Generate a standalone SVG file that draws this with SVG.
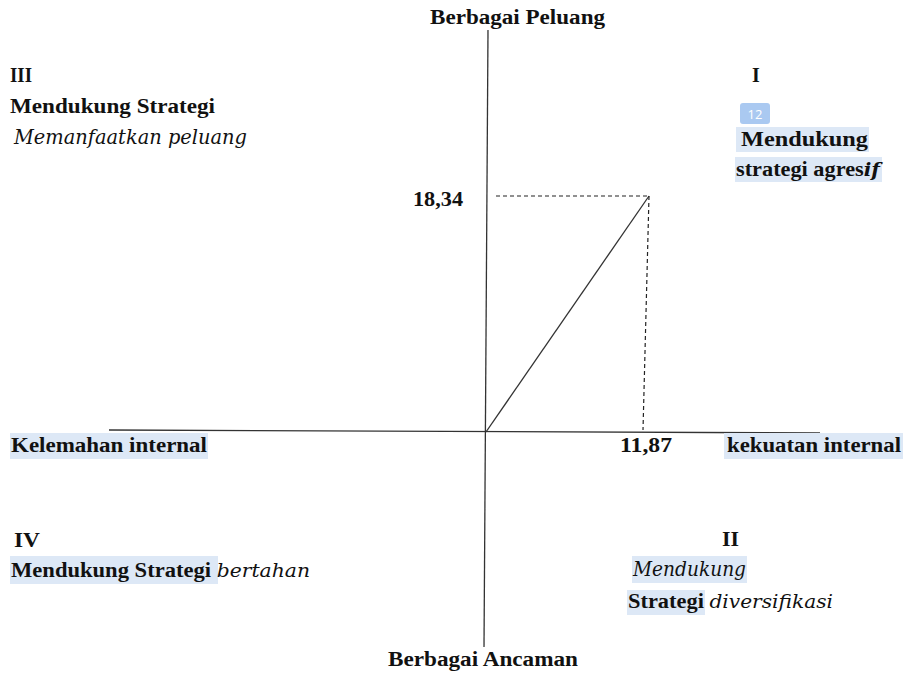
<svg xmlns="http://www.w3.org/2000/svg" width="903" height="677" viewBox="0 0 903 677">
<style>
text{font-family:"Liberation Serif","Times New Roman",serif;font-size:20px;font-weight:bold;fill:#111;}
.it{font-style:italic;font-family:"DejaVu Serif","Liberation Serif",serif;}
.n{font-weight:normal;}
.hl{fill:#dde8f6;}
.ax{stroke:#333;stroke-width:1.3;fill:none;}
.ds{stroke:#222;stroke-width:1.2;stroke-dasharray:4 3;fill:none;}
</style>
<rect width="903" height="677" fill="#fff"/>
<g id="connectors">
<line class="ax" x1="488" y1="30" x2="484" y2="647"/>
<line class="ax" x1="109" y1="430" x2="820" y2="433"/>
<line class="ax" x1="486" y1="432" x2="649" y2="196"/>
<line class="ds" x1="496" y1="196" x2="649" y2="196"/>
<line class="ds" x1="649" y1="196" x2="643" y2="430"/>
</g>
<g id="top-label"><text x="430" y="24" textLength="175" lengthAdjust="spacingAndGlyphs">Berbagai Peluang</text></g>
<g id="bottom-label"><text x="388" y="666" textLength="190" lengthAdjust="spacingAndGlyphs">Berbagai Ancaman</text></g>
<g id="quadrant-III">
<text x="10" y="82" textLength="22" lengthAdjust="spacingAndGlyphs">III</text>
<text x="10" y="113" textLength="205" lengthAdjust="spacingAndGlyphs">Mendukung Strategi</text>
<text x="14" y="144" class="it n" font-size="18" textLength="233" lengthAdjust="spacingAndGlyphs">Memanfaatkan peluang</text>
</g>
<g id="quadrant-I">
<text x="752" y="82">I</text>
<rect x="740" y="103" width="30" height="21" rx="3" fill="#aac9f1"/>
<text x="755" y="119" text-anchor="middle" style="font-family:'Open Sans','Liberation Sans',sans-serif;font-size:13px;font-weight:normal;fill:#fff">12</text>
<rect class="hl" x="736" y="127" width="133" height="25"/>
<text x="741" y="146" textLength="127" lengthAdjust="spacingAndGlyphs">Mendukung</text>
<rect class="hl" x="735" y="157" width="147" height="25"/>
<text x="736" y="176" textLength="144" lengthAdjust="spacingAndGlyphs">strategi agres<tspan class="it" font-size="18">if</tspan></text>
</g>
<g id="value-y"><text x="413" y="206" textLength="50" lengthAdjust="spacingAndGlyphs">18,34</text></g>
<g id="value-x"><text x="620" y="452" textLength="52" lengthAdjust="spacingAndGlyphs">11,87</text></g>
<g id="left-label">
<rect class="hl" x="10" y="433" width="198" height="26"/>
<text x="11" y="452" textLength="196" lengthAdjust="spacingAndGlyphs">Kelemahan internal</text>
</g>
<g id="right-label">
<rect class="hl" x="724" y="433" width="179" height="26"/>
<text x="727" y="452" textLength="174" lengthAdjust="spacingAndGlyphs">kekuatan internal</text>
</g>
<g id="quadrant-IV">
<text x="14" y="547" textLength="26" lengthAdjust="spacingAndGlyphs">IV</text>
<rect class="hl" x="10" y="556" width="208" height="28"/>
<text x="11" y="577" textLength="299" lengthAdjust="spacingAndGlyphs">Mendukung Strategi <tspan class="it n" font-size="18">bertahan</tspan></text>
</g>
<g id="quadrant-II">
<text x="722" y="546" textLength="17" lengthAdjust="spacingAndGlyphs">II</text>
<rect class="hl" x="632" y="556" width="115" height="27"/>
<text x="633" y="576" class="it n" font-size="18" textLength="113" lengthAdjust="spacingAndGlyphs">Mendukung</text>
<rect class="hl" x="627" y="590" width="78" height="25"/>
<text x="628" y="608" textLength="205" lengthAdjust="spacingAndGlyphs">Strategi <tspan class="it n" font-size="18">diversifikasi</tspan></text>
</g>
</svg>
